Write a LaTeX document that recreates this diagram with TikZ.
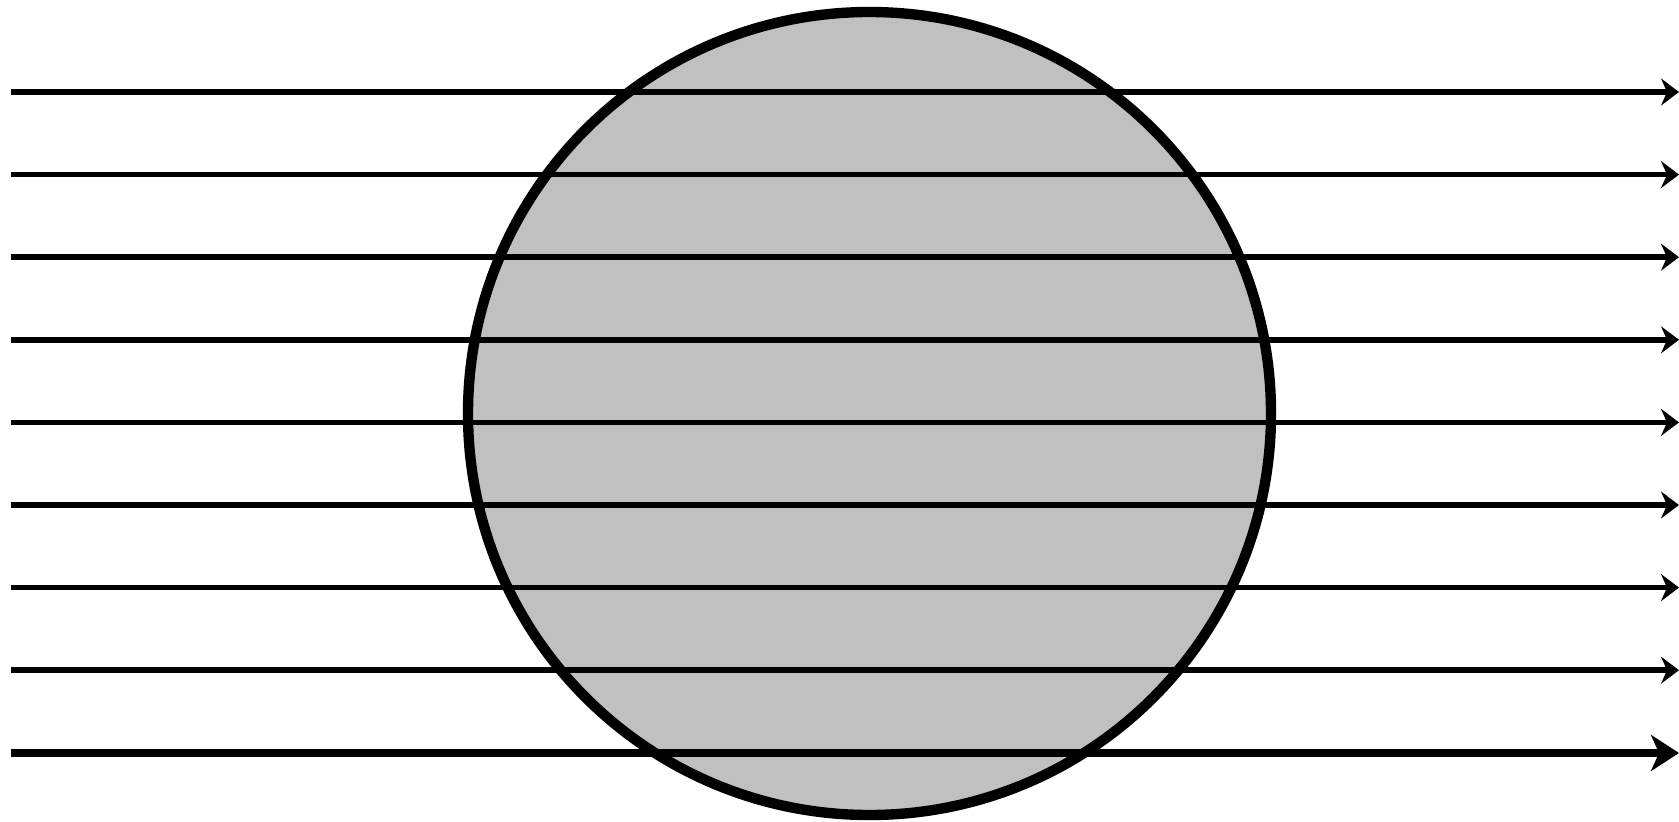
\documentclass[tikz,border=0pt]{standalone}
\usepackage{xcolor}
\usepackage{tikz}
\usetikzlibrary{arrows.meta, calc}
\definecolor{ballgray}{RGB}{192,192,192}
\tikzstyle{ball} = [
    circle, draw=black, fill=ballgray, line width=5.9pt,
    minimum size=16.06cm, inner sep=0pt
]
\tikzstyle{ray} = [-{Stealth[length=3.6mm, width=5.4mm, inset=1.2mm]}, line width=3.1pt, draw=black]
\tikzstyle{lastray} = [-{Stealth[length=5.6mm, width=7.2mm, inset=1.6mm]}, line width=4.6pt, draw=black]

\begin{document}
\begin{tikzpicture}
        \useasboundingbox (0,0) rectangle (33.58,-16.42);

        % Sphere
        \node[ball] (sphere) at (17.39,-8.27) {};

        % Rays
        \foreach \i in {0,...,7} {
            \coordinate (in\i) at (0.22,{-1.84-1.652*\i});
            \coordinate (out\i) at (33.58,{-1.84-1.652*\i});
            \draw[ray] (in\i) -- (out\i);
        }
        \coordinate (in8) at (0.22,-15.06);
        \coordinate (out8) at (33.58,-15.06);
        \draw[lastray] (in8) -- (out8);
    \end{tikzpicture}
\end{document}
